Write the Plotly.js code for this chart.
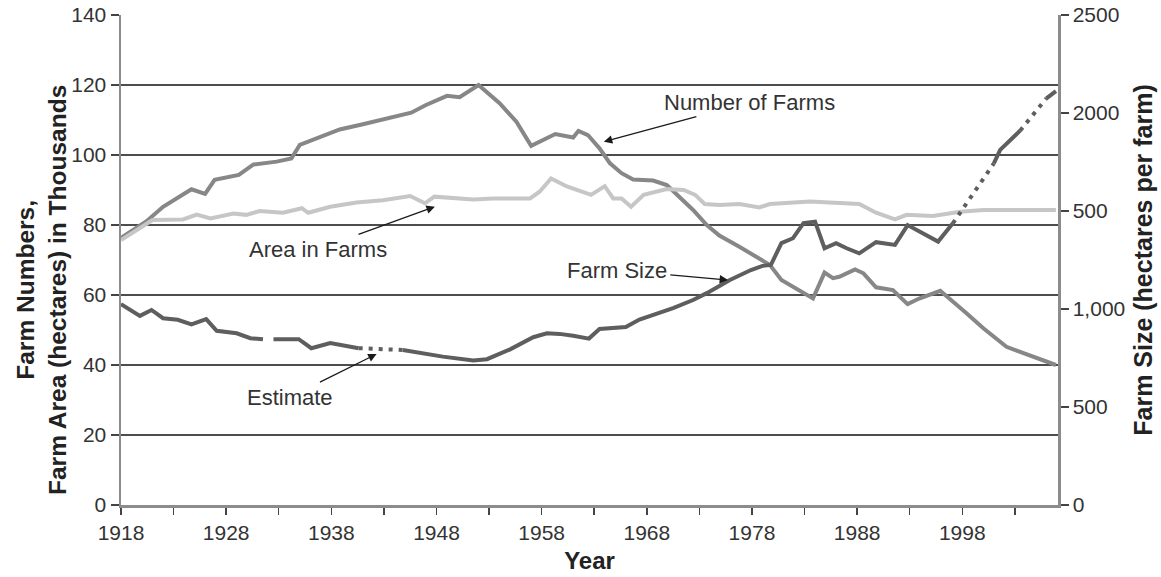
<!DOCTYPE html>
<html>
<head>
<meta charset="utf-8">
<script src="https://cdn.plot.ly/plotly-3.0.1.min.js"></script>
<style>html,body{margin:0;padding:0;background:#fff;}#chart{width:1161px;height:577px;}</style>
</head>
<body>
<div id="chart"></div>
<script>
// ---- Data ----
var farmsYears = [1918,1920.4,1922,1923.3,1924.7,1926,1926.9,1929.2,1930.6,1932.8,1934.2,1935,1936.6,1938.8,1941,1943.9,1945.6,1947,1949,1950.2,1952,1954,1955.6,1957,1957.8,1959.3,1961,1961.5,1962.4,1963.5,1964.5,1965.6,1966.7,1968.6,1969.9,1971.1,1972.4,1973.7,1974.9,1976.8,1979.7,1980.8,1982.2,1983.8,1984.9,1985.7,1986.3,1987.8,1988.6,1989.8,1991.4,1992.8,1993.9,1995.9,1998.4,2000,2002.2,2004.7,2006.9];
var farmsValues = [76.3,81,85.2,87.6,90.2,88.9,92.9,94.3,97.3,98.1,99,102.9,104.8,107.3,108.8,110.8,112.1,114.3,116.9,116.5,120,114.8,109.5,102.6,103.8,106,105,106.9,105.7,101.9,97.6,94.8,93,92.7,91.4,88.1,84.3,80,77,73.8,68.6,64.3,61.9,59,66.4,64.8,65.2,67.3,66.2,62.2,61.4,57.4,59,61.2,54.8,50.5,45.2,42.4,40];

var areaYears = [1918,1921,1923.9,1925.2,1926.5,1928.7,1929.9,1931.2,1933.4,1935.2,1935.8,1937.9,1940.4,1942.9,1945.5,1946.9,1947.8,1951.5,1953.4,1956.9,1957.8,1958.9,1960.4,1962.7,1964,1964.8,1965.6,1966.5,1967.7,1969.9,1971.5,1972.6,1973.5,1974.9,1976.8,1978.7,1979.7,1983.5,1988.2,1989.8,1991.6,1992.7,1995.2,1997.8,2000,2006.9];
var areaValues = [75.7,81.4,81.6,83,81.9,83.3,82.9,84,83.5,84.8,83.5,85.2,86.4,87.1,88.3,86.2,88.1,87.3,87.6,87.6,89.5,93.3,91,88.6,91.1,87.6,87.6,85.2,88.6,90.3,90,88.6,86,85.7,86,85,86,86.7,86,83.5,81.6,82.9,82.6,83.8,84.3,84.3];

// Farm size (hectares per farm), reported stretches; null = break in the line
var sizeYears = [1918,1919.8,1920.9,1922,1923.4,1924.7,1926.1,1927.1,1929,1930.3,1931.5,1932,1932.5,1934.9,1936.1,1937.9,1940.6,1942.5,1944.8,1948.6,1951.5,1952.8,1955,1957.2,1958.5,1959.7,1961,1962.5,1963.5,1966,1967.3,1970.5,1972.4,1973.7,1975.9,1977.9,1979,1979.8,1980.8,1981.9,1982.9,1984,1984.9,1986,1987,1988.2,1989.8,1991.6,1992.8,1995.7,1997.1,1999,2001,2001.6,2002.9,2003.5,2005,2006,2006.9];
var sizeValues = [1025,965,995,953,945,922,948,889,876,851,846,null,846,846,800,826,800,null,791,757,737,744,794,856,876,873,863,849,898,908,946,1004,1046,1081,1148,1199,1220,1225,1336,1361,1438,1446,1310,1336,1310,1284,1341,1327,1428,1344,1437,null,1743,1812,1879,1910,null,2075,2112];
// Estimated (dotted) stretches of farm size
var estYears = [1940.6,1944.8,null,1997.1,2001,null,2003.5,2006];
var estValues = [800,791,null,1437,1743,null,1910,2075];

var yLeftTicks = [0,20,40,60,80,100,120,140];
var yRightTickVals = [0,500,1000,1500,2000,2500];
var yRightTickText = ['0','500','1,000','500','2000','2500'];
var xTickVals = [1918,1923,1928,1933,1938,1943,1948,1953,1958,1963,1968,1973,1978,1983,1988,1993,1998,2003];
var xTickText = ['1918','','1928','','1938','','1948','','1958','','1968','','1978','','1988','','1998',''];

var FONT = 'Liberation Sans, Arial, sans-serif';

var traces = [
  {x: farmsYears, y: farmsValues, type:'scatter', mode:'lines', name:'Number of Farms',
   line:{color:'#878787', width:4}, yaxis:'y'},
  {x: areaYears, y: areaValues, type:'scatter', mode:'lines', name:'Area in Farms',
   line:{color:'#c6c6c6', width:4}, yaxis:'y'},
  {x: sizeYears, y: sizeValues, type:'scatter', mode:'lines', name:'Farm Size',
   line:{color:'#5e5e5e', width:4}, connectgaps:false, yaxis:'y2'},
  {x: estYears, y: estValues, type:'scatter', mode:'lines', name:'Estimate',
   line:{color:'#5e5e5e', width:4, dash:'4px,6px'}, connectgaps:false, yaxis:'y2'}
];

function px2x(p){ return 1918 + (p-121)/10.52; }
function py2y(p){ return (505-p)/3.5; }

function ann(text, tx, ty, hx, hy){
  return {text:text, x:px2x(hx), y:py2y(hy), xref:'x', yref:'y',
    ax:px2x(tx), ay:py2y(ty), axref:'x', ayref:'y',
    showarrow:true, arrowhead:2, arrowsize:1.3, arrowwidth:1.3, arrowcolor:'#1a1a1a',
    font:{family:FONT, size:22, color:'#333'}, standoff:0, startstandoff:2};
}

var layout = {
  width:1161, height:577,
  margin:{l:121, r:103, t:15, b:72},
  paper_bgcolor:'#fff', plot_bgcolor:'#fff',
  showlegend:false,
  font:{family:FONT, color:'#333'},
  xaxis:{range:[1918,2007.1], tickvals:xTickVals, ticktext:xTickText,
    ticks:'outside', ticklen:7, tickwidth:1.5, tickcolor:'#444',
    showline:true, linecolor:'#8c8c8c', linewidth:2.5, showgrid:false, zeroline:false,
    tickfont:{family:FONT, size:21, color:'#333'},
    title:{text:'<b>Year</b>', font:{family:FONT, size:24, color:'#222'}, standoff:10}},
  yaxis:{range:[0,140], tickvals:yLeftTicks, ticks:'outside', ticklen:8, tickwidth:1.5, tickcolor:'#444',
    showline:true, linecolor:'#8c8c8c', linewidth:2.5, showgrid:true, gridcolor:'#4d4d4d', gridwidth:1.5,
    zeroline:false, tickfont:{family:FONT, size:21, color:'#333'}},
  yaxis2:{range:[0,2500], overlaying:'y', side:'right', tickvals:yRightTickVals, ticktext:yRightTickText,
    ticks:'outside', ticklen:8, tickwidth:1.5, tickcolor:'#444',
    showline:true, linecolor:'#8c8c8c', linewidth:2.5, showgrid:false, zeroline:false,
    tickfont:{family:FONT, size:21, color:'#333'},
    title:{text:'<b>Farm Size (hectares per farm)</b>', font:{family:FONT, size:25, color:'#222'}, standoff:10}},
  annotations:[
    {text:'<b>Farm Numbers,<br>Farm Area (hectares) in Thousands</b>', xref:'paper', yref:'paper',
     x:(41-121)/937, y:(505-290)/490, xanchor:'center', yanchor:'middle', textangle:-90, showarrow:false,
     font:{family:FONT, size:24.5, color:'#222'}},
    ann('Number of Farms', 750, 102, 604, 141.7),
    ann('Area in Farms', 318, 249, 435, 206.7),
    ann('Farm Size', 617, 270, 728.3, 280),
    ann('Estimate', 290, 397, 376.7, 354)
  ]
};

Plotly.newPlot('chart', traces, layout, {displayModeBar:false, staticPlot:true});
</script>
</body>
</html>
